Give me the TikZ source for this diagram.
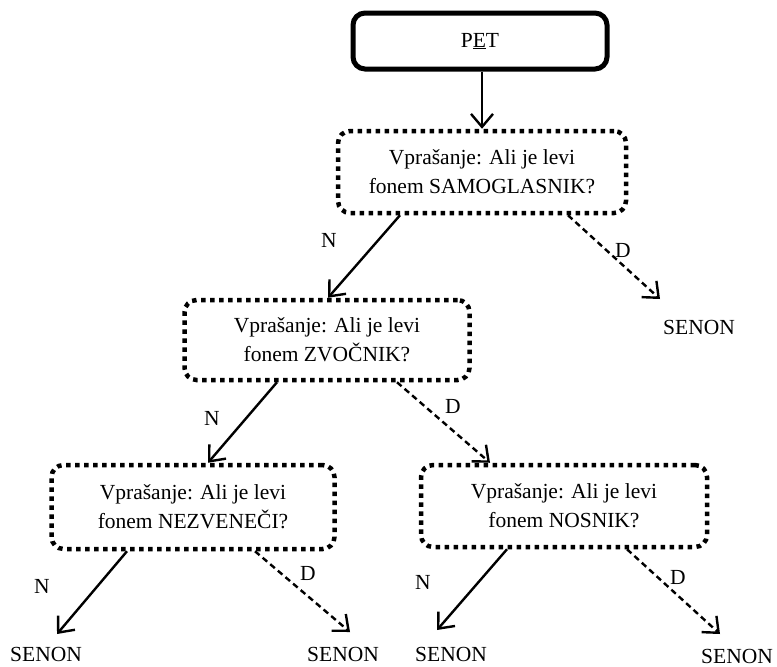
\documentclass[tikz,border=0pt]{standalone}
\usepackage{fontspec}
\setmainfont{Liberation Serif}
\usetikzlibrary{arrows.meta,calc}

\tikzset{
  txt/.style={font=\fontsize{21.5}{29}\selectfont, inner sep=0pt},
  startbox/.style={draw, line width=5pt, rounded corners=12pt, inner sep=0pt,
    minimum width=254pt, minimum height=56pt, txt},
  askbox/.style={draw, line width=4.5pt, dash pattern=on 4.5pt off 4.5pt,
    rounded corners=12pt, inner sep=0pt, align=center, txt},
  tip/.style={-{Straight Barb[length=13pt,width=22pt]}},
  yes/.style={tip, line width=2.4pt, dash pattern=on 6pt off 4pt},
  no/.style={tip, line width=2.4pt},
  lbl/.style={txt}
}

\begin{document}
\begin{tikzpicture}[x=1pt,y=-1pt]
  \useasboundingbox (0,0) rectangle (777,667);

  % root and question boxes
  \node[startbox] (pet) at (480,41) {P\underline{E}T};
  \node[askbox, minimum width=288pt, minimum height=82pt] (q1) at (482,172)
    {Vprašanje: Ali je levi\\fonem SAMOGLASNIK?};
  \node[askbox, minimum width=285pt, minimum height=80pt] (q2) at (327,340)
    {Vprašanje: Ali je levi\\fonem ZVOČNIK?};
  \node[askbox, minimum width=283pt, minimum height=84pt] (q3) at (193,507)
    {Vprašanje: Ali je levi\\fonem NEZVENEČI?};
  \node[askbox, minimum width=286pt, minimum height=82pt] (q4) at (564,506)
    {Vprašanje: Ali je levi\\fonem NOSNIK?};

  % leaves
  \node[lbl] (s1) at (699,327) {SENON};
  \node[lbl] (s2) at (46,654) {SENON};
  \node[lbl] (s3) at (343,654) {SENON};
  \node[lbl] (s4) at (451,654) {SENON};
  \node[lbl] (s5) at (737,656) {SENON};

  % free arrow ends above the leaves
  \coordinate (e1) at (660,299);
  \coordinate (e2) at (57,634);
  \coordinate (e3) at (350,632);
  \coordinate (e4) at (437,630);
  \coordinate (e5) at (720,634);

  % connectors
  \draw[no] (pet.south -| q1.north) -- (q1.north);

  \draw[no]  ($(q1.south)+(-82,0)$) -- ($(q2.north)+(1,0)$);
  \draw[yes] ($(q1.south)+(86,0)$) -- (e1);

  \draw[no]  ($(q2.south)+(-50,0)$) -- ($(q3.north)+(15,0)$);
  \draw[yes] ($(q2.south)+(70,0)$) -- ($(q4.north)+(-74,0)$);

  \draw[no]  ($(q3.south)+(-66,0)$) -- (e2);
  \draw[yes] ($(q3.south)+(62,0)$) -- (e3);

  \draw[no]  ($(q4.south)+(-57,0)$) -- (e4);
  \draw[yes] ($(q4.south)+(63,0)$) -- (e5);

  % branch labels
  \node[lbl] (n1) at (329,240) {N};
  \node[lbl] (d1) at (623,250) {D};
  \node[lbl] (n2) at (212,418) {N};
  \node[lbl] (d2) at (453,406) {D};
  \node[lbl] (n3) at (42,586) {N};
  \node[lbl] (d3) at (308,573) {D};
  \node[lbl] (n4) at (423,582) {N};
  \node[lbl] (d4) at (678,577) {D};
\end{tikzpicture}
\end{document}
